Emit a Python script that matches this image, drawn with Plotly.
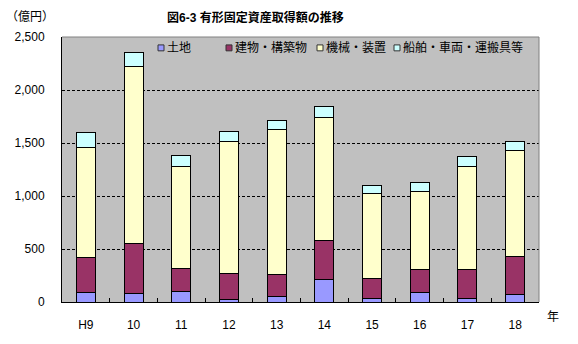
import plotly.graph_objects as go

# 年度別 有形固定資産取得額（億円）
years = ["H9", "10", "11", "12", "13", "14", "15", "16", "17", "18"]
land = [91, 81, 100, 25, 53, 212, 35, 91, 35, 72]
buildings = [327, 468, 218, 243, 206, 367, 186, 215, 271, 361]
machinery = [1037, 1672, 960, 1243, 1367, 1166, 804, 738, 974, 994]
vehicles = [140, 131, 102, 94, 91, 103, 75, 84, 91, 84]

series_names = ["土地", "建物・構築物", "機械・装置", "船舶・車両・運搬具等"]
series_values = [land, buildings, machinery, vehicles]
series_colors = ["#9999FF", "#993366", "#FFFFCC", "#CCFFFF"]

FONT = "Arial, 'Liberation Sans', 'Noto Sans CJK JP', sans-serif"

W, H = 578, 344
L, R, T, B = 62, 39, 37, 39
pw = W - L - R
ph = H - T - B

fig = go.Figure()
for name, vals, color in zip(series_names, series_values, series_colors):
    fig.add_trace(go.Bar(
        x=years, y=vals, name=name,
        marker=dict(color=color, line=dict(color="black", width=1)),
        showlegend=False,
    ))

# 凡例（プロット上部に横並び）
legend_x = [160, 228, 319, 396]
legend_y = 48
shapes = []
annotations = []
for name, color, lx in zip(series_names, series_colors, legend_x):
    x0 = (lx - 2 - L) / pw
    x1 = (lx + 4 - L) / pw
    y0 = 1 - (legend_y + 3 - T) / ph
    y1 = 1 - (legend_y - 3 - T) / ph
    shapes.append(dict(type="rect", xref="paper", yref="paper",
                       x0=x0, x1=x1, y0=y0, y1=y1,
                       fillcolor=color, line=dict(color="#333333", width=1),
                       layer="above"))
    annotations.append(dict(text=name, xref="paper", yref="paper",
                            x=(lx + 5 - L) / pw, y=1 - (legend_y - T) / ph,
                            xanchor="left", yanchor="middle", showarrow=False,
                            font=dict(size=12, color="black", family=FONT)))

# プロット枠（上・右）
shapes.append(dict(type="line", xref="paper", yref="paper",
                   x0=0, x1=1, y0=1, y1=1,
                   line=dict(color="#808080", width=1), layer="above"))
shapes.append(dict(type="line", xref="paper", yref="paper",
                   x0=1, x1=1, y0=0, y1=1,
                   line=dict(color="#808080", width=1), layer="above"))

annotations += [
    dict(text="<b>図6-3 有形固定資産取得額の推移</b>", xref="paper", yref="paper",
         x=(255 - L) / pw, y=1 - (17 - T) / ph, xanchor="center", yanchor="middle",
         showarrow=False, font=dict(size=12, color="black", family=FONT)),
    dict(text="（億円）", xref="paper", yref="paper",
         x=(4 - L) / pw, y=1 - (17 - T) / ph, xanchor="left", yanchor="middle",
         showarrow=False, font=dict(size=12, color="black", family=FONT)),
    dict(text="年", xref="paper", yref="paper",
         x=(553 - L) / pw, y=1 - (320 - T) / ph, xanchor="center", yanchor="middle",
         showarrow=False, font=dict(size=12, color="black", family=FONT)),
]

fig.update_layout(
    barmode="stack",
    bargap=0.6,
    width=W, height=H,
    margin=dict(l=L, r=R, t=T, b=B, pad=0),
    paper_bgcolor="white",
    plot_bgcolor="#C0C0C0",
    font=dict(family=FONT, size=12, color="black"),
    shapes=shapes,
    annotations=annotations,
    showlegend=False,
)
fig.update_xaxes(
    type="category",
    showline=True, linecolor="black", linewidth=1,
    ticks="inside", ticklen=4, tickcolor="black", tickson="boundaries",
    showgrid=False,
    ticklabelstandoff=12,
    tickfont=dict(size=12, family=FONT),
)
fig.update_yaxes(
    range=[0, 2500], dtick=500, tickformat=",",
    showline=True, linecolor="black", linewidth=1,
    ticks="", zeroline=False,
    showgrid=True, gridcolor="black", gridwidth=1, griddash="3px,2px",
    ticklabelstandoff=14,
    tickfont=dict(size=12, family=FONT),
)

fig.write_html("out.html")
